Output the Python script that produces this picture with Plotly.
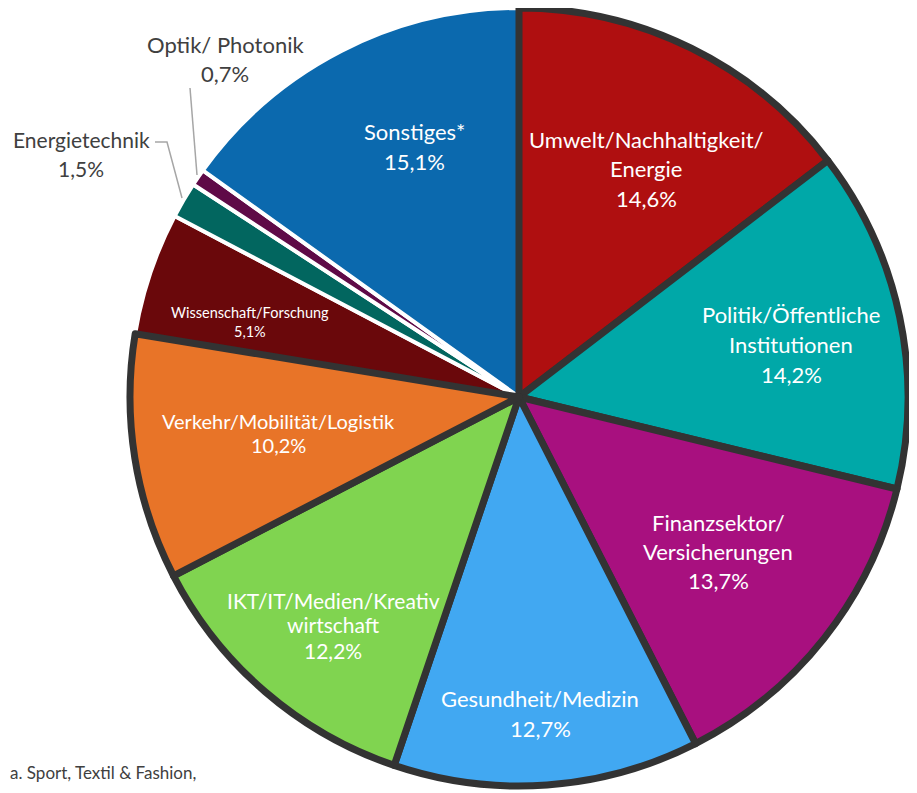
import plotly.graph_objects as go

# ---------------- data ----------------
categories = [
    "Umwelt/Nachhaltigkeit/Energie",
    "Politik/Öffentliche Institutionen",
    "Finanzsektor/Versicherungen",
    "Gesundheit/Medizin",
    "IKT/IT/Medien/Kreativwirtschaft",
    "Verkehr/Mobilität/Logistik",
    "Wissenschaft/Forschung",
    "Energietechnik",
    "Optik/ Photonik",
    "Sonstiges*",
]
values = [14.6, 14.2, 13.7, 12.7, 12.2, 10.2, 5.1, 1.5, 0.7, 15.1]
label_lines = [
    ["Umwelt/Nachhaltigkeit/", "Energie"],
    ["Politik/Öffentliche", "Institutionen"],
    ["Finanzsektor/", "Versicherungen"],
    ["Gesundheit/Medizin"],
    ["IKT/IT/Medien/Kreativ", "wirtschaft"],
    ["Verkehr/Mobilität/Logistik"],
    ["Wissenschaft/Forschung"],
    ["Energietechnik"],
    ["Optik/ Photonik"],
    ["Sonstiges*"],
]
footnote = "a. Sport, Textil & Fashion,"

# ---------------- styles ----------------
colors = ["#AF0F10", "#00A8A8", "#A8107F", "#41A8F2", "#80D450",
          "#E87428", "#6A080B", "#02665F", "#5F0A47", "#0B69AE"]
dark_border = [True, True, True, True, True, True, False, False, False, False]
DARK = "#333333"
OFF = 8                      # page body margin
W, H = 917 - OFF, 793 - OFF  # figure size so it fits the window
FONT = "Lato"

# label layout in screen px: (center x, line y positions, font size, color)
label_pos = [
    (646, [140, 169, 199], 22, "white"),
    (791, [314, 344, 374], 22, "white"),
    (718, [522, 551, 580], 22, "white"),
    (540, [698, 728], 22, "white"),
    (333, [600, 624, 650], 21, "white"),
    (278, [421, 445], 20, "white"),
    (250, [312, 331], 14.5, "white"),
    (81, [140, 169], 21, "#404040"),
    (225, [45, 73.5], 22, "#404040"),
    (414, [132, 161.5], 22, "white"),
]

def px(x):
    return (x - OFF) / W

def py(y):
    return 1 - (y - OFF) / H

def pct(v):
    return f"{v:.1f}".replace(".", ",") + "%"

cx, cy, r = 519, 397, 389
domain = dict(x=[px(cx - r), px(cx + r)], y=[max(0, py(cy + r)), min(1, py(cy - r))])

fig = go.Figure()
# base layer: all slices, white borders for the small group
fig.add_trace(go.Pie(
    labels=categories, values=values, sort=False, direction="clockwise",
    rotation=0, textinfo="none", hoverinfo="skip", showlegend=False,
    domain=domain,
    marker=dict(colors=colors,
                line=dict(color=["white"] * len(values), width=4)),
))
# top layer: dark-bordered slices only
fig.add_trace(go.Pie(
    labels=categories, values=values, sort=False, direction="clockwise",
    rotation=0, textinfo="none", hoverinfo="skip", showlegend=False,
    domain=domain,
    marker=dict(
        colors=[c if d else "rgba(0,0,0,0)" for c, d in zip(colors, dark_border)],
        line=dict(color=[DARK if d else "rgba(0,0,0,0)" for d in dark_border],
                  width=[7 if d else 0 for d in dark_border]),
    ),
))

annotations = []
for lines, v, (x, ys, fs, col) in zip(label_lines, values, label_pos):
    for t, y in zip(lines + [pct(v)], ys):
        annotations.append(dict(
            x=px(x), y=py(y), xref="paper", yref="paper",
            text=t, showarrow=False, xanchor="center", yanchor="middle",
            font=dict(family=FONT, size=fs, color=col),
        ))
annotations.append(dict(
    x=0, y=py(772), xref="paper", yref="paper", text=footnote,
    showarrow=False, xanchor="left", yanchor="middle",
    font=dict(family=FONT, size=17, color="#404040"),
))

leader = dict(color="#A6A6A6", width=1.5)
shapes = [
    dict(type="path", xref="paper", yref="paper",
         path=f"M {px(155)} {py(142)} L {px(167)} {py(142)} L {px(182)} {py(198)}",
         line=leader),
    dict(type="line", xref="paper", yref="paper",
         x0=px(190), y0=py(88), x1=px(197), y1=py(175), line=leader),
]

fig.update_layout(
    width=W, height=H,
    margin=dict(l=0, r=0, t=0, b=0),
    paper_bgcolor="white", plot_bgcolor="white",
    annotations=annotations, shapes=shapes,
    font=dict(family=FONT),
)

fig.write_html("out.html")
